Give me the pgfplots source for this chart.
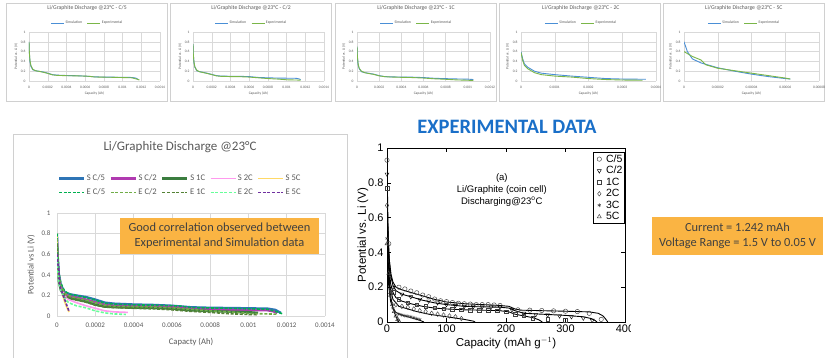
\documentclass[border=0pt]{standalone}
\usepackage{pgfplots}
\pgfplotsset{compat=1.18}
\usepackage{pgfplotstable}
\usepackage{fontspec}
\setmainfont{Carlito}
\newfontfamily\arialf{Liberation Sans}
\newcommand{\fs}[2]{\fontsize{#1}{#2}\selectfont}
\definecolor{simblue}{HTML}{4A8FD6}
\definecolor{expgreen}{HTML}{7AB648}
\definecolor{gridgray}{HTML}{D9D9D9}
\definecolor{txtgray}{HTML}{595959}
\definecolor{boxgray}{HTML}{D0D0D0}
\definecolor{orangebox}{HTML}{FAB443}
\definecolor{titleblue}{HTML}{1A6FC8}
\definecolor{cSC5}{HTML}{2E75B6}
\definecolor{cSC2}{HTML}{B03AB0}
\definecolor{cS1}{HTML}{3B7D3F}
\definecolor{cS2}{HTML}{FF99EE}
\definecolor{cS5}{HTML}{FFD966}
\definecolor{cEC5}{HTML}{00B050}
\definecolor{cEC2}{HTML}{70AD47}
\definecolor{cE1}{HTML}{548235}
\definecolor{cE2}{HTML}{66FF99}
\definecolor{cE5}{HTML}{7030A0}

% ---- Simulation / experimental (Ah, V) ----
\pgfplotstableread[row sep=\\]{
x y\\ 0 0.8\\ 0.000003 0.6\\ 0.00001 0.4\\ 0.00002 0.3\\ 0.00004 0.23\\ 0.00007 0.21\\ 0.0001 0.2\\ 0.00015 0.185\\ 0.0002 0.16\\ 0.00025 0.13\\ 0.0003 0.12\\ 0.0004 0.112\\ 0.0005 0.108\\ 0.0006 0.1\\ 0.0007 0.085\\ 0.0008 0.08\\ 0.0009 0.078\\ 0.001 0.075\\ 0.0011 0.072\\ 0.00114 0.06\\ 0.00117 0.03\\
}\SCfive
\pgfplotstableread[row sep=\\]{
x y\\ 0 0.8\\ 0.000003 0.62\\ 0.00001 0.42\\ 0.00002 0.32\\ 0.00004 0.24\\ 0.00007 0.21\\ 0.0001 0.2\\ 0.00015 0.18\\ 0.0002 0.155\\ 0.00025 0.125\\ 0.0003 0.115\\ 0.0004 0.108\\ 0.0005 0.105\\ 0.0006 0.1\\ 0.00065 0.095\\ 0.0007 0.082\\ 0.0008 0.078\\ 0.0009 0.075\\ 0.001 0.07\\ 0.0011 0.065\\ 0.00115 0.04\\ 0.00118 0.02\\
}\ECfive
\pgfplotstableread[row sep=\\]{
x y\\ 0 0.75\\ 0.000003 0.55\\ 0.00001 0.38\\ 0.00002 0.28\\ 0.00004 0.21\\ 0.00007 0.19\\ 0.0001 0.18\\ 0.00015 0.16\\ 0.0002 0.135\\ 0.00025 0.11\\ 0.0003 0.1\\ 0.0004 0.097\\ 0.0005 0.095\\ 0.0006 0.09\\ 0.0007 0.072\\ 0.0008 0.065\\ 0.0009 0.06\\ 0.001 0.057\\ 0.0011 0.055\\ 0.00113 0.045\\ 0.00115 0.03\\
}\SCtwo
\pgfplotstableread[row sep=\\]{
x y\\ 0 0.75\\ 0.000003 0.56\\ 0.00001 0.39\\ 0.00002 0.29\\ 0.00004 0.22\\ 0.00007 0.19\\ 0.0001 0.175\\ 0.00015 0.155\\ 0.0002 0.13\\ 0.00025 0.105\\ 0.0003 0.095\\ 0.0004 0.09\\ 0.0005 0.088\\ 0.0006 0.08\\ 0.0007 0.065\\ 0.0008 0.05\\ 0.0009 0.04\\ 0.001 0.025\\ 0.0011 0.02\\ 0.00115 0.018\\
}\ECtwo
\pgfplotstableread[row sep=\\]{
x y\\ 0 0.7\\ 0.000003 0.5\\ 0.00001 0.33\\ 0.00002 0.25\\ 0.00004 0.19\\ 0.00007 0.17\\ 0.0001 0.16\\ 0.00015 0.14\\ 0.0002 0.11\\ 0.00025 0.09\\ 0.0003 0.085\\ 0.0004 0.08\\ 0.0005 0.078\\ 0.0006 0.07\\ 0.0007 0.055\\ 0.0008 0.048\\ 0.0009 0.042\\ 0.001 0.038\\ 0.00105 0.03\\
}\SOne
\pgfplotstableread[row sep=\\]{
x y\\ 0 0.7\\ 0.000003 0.52\\ 0.00001 0.35\\ 0.00002 0.26\\ 0.00004 0.2\\ 0.00007 0.17\\ 0.0001 0.155\\ 0.00015 0.135\\ 0.0002 0.105\\ 0.00025 0.088\\ 0.0003 0.082\\ 0.0004 0.075\\ 0.0005 0.07\\ 0.0006 0.06\\ 0.0007 0.045\\ 0.0008 0.035\\ 0.0009 0.022\\ 0.001 0.015\\ 0.00105 0.012\\
}\EOne
\pgfplotstableread[row sep=\\]{
x y\\ 0 0.6\\ 0.000005 0.45\\ 0.00001 0.35\\ 0.00002 0.28\\ 0.00004 0.2\\ 0.00006 0.16\\ 0.0001 0.13\\ 0.00015 0.1\\ 0.0002 0.075\\ 0.00025 0.05\\ 0.0003 0.04\\ 0.00037 0.035\\
}\STwoC
\pgfplotstableread[row sep=\\]{
x y\\ 0 0.58\\ 0.000005 0.42\\ 0.00001 0.32\\ 0.00002 0.25\\ 0.00004 0.17\\ 0.00006 0.13\\ 0.0001 0.1\\ 0.00015 0.08\\ 0.0002 0.05\\ 0.00025 0.03\\ 0.0003 0.02\\ 0.00036 0.015\\
}\ETwoC
\pgfplotstableread[row sep=\\]{
x y\\ 0 0.8\\ 0.000002 0.6\\ 0.000005 0.45\\ 0.00001 0.37\\ 0.00002 0.27\\ 0.00003 0.2\\ 0.00004 0.14\\ 0.00005 0.09\\ 0.00006 0.05\\ 0.000063 0.04\\
}\SFiveC
\pgfplotstableread[row sep=\\]{
x y\\ 0 0.6\\ 0.000005 0.5\\ 0.00001 0.43\\ 0.000013 0.33\\ 0.00002 0.26\\ 0.00003 0.21\\ 0.00004 0.16\\ 0.00005 0.11\\ 0.00006 0.06\\ 0.000063 0.04\\
}\EFiveC

% ---- Literature data (mAh/g, V): model lines and measured marks ----
\pgfplotstableread[row sep=\\]{
x y\\ 0 0.95\\ 1 0.7\\ 2 0.5\\ 4 0.35\\ 7 0.27\\ 10 0.23\\ 15 0.2\\ 25 0.185\\ 40 0.17\\ 60 0.15\\ 80 0.13\\ 100 0.115\\ 130 0.105\\ 160 0.1\\ 190 0.095\\ 205 0.09\\ 215 0.075\\ 225 0.068\\ 260 0.065\\ 300 0.062\\ 340 0.058\\ 355 0.05\\ 363 0.035\\ 368 0.015\\ 371 0\\
}\MLa
\pgfplotstableread[row sep=\\]{
x y\\ 0 0.93\\ 3 0.45\\ 20 0.2\\ 30 0.19\\ 40 0.178\\ 50 0.168\\ 60 0.155\\ 70 0.145\\ 80 0.132\\ 90 0.122\\ 100 0.117\\ 110 0.112\\ 120 0.108\\ 130 0.105\\ 140 0.103\\ 150 0.1\\ 160 0.1\\ 170 0.1\\ 180 0.098\\ 190 0.095\\ 220 0.07\\ 240 0.068\\ 260 0.066\\ 280 0.064\\ 300 0.062\\ 320 0.06\\ 340 0.05\\ 360 0.015\\
}\MMa
\pgfplotstableread[row sep=\\]{
x y\\ 0 0.87\\ 1 0.6\\ 3 0.4\\ 6 0.27\\ 10 0.21\\ 15 0.18\\ 25 0.16\\ 40 0.145\\ 60 0.125\\ 80 0.11\\ 100 0.1\\ 130 0.09\\ 160 0.087\\ 190 0.085\\ 205 0.08\\ 215 0.065\\ 230 0.05\\ 260 0.045\\ 300 0.038\\ 330 0.03\\ 343 0.02\\ 350 0.008\\ 353 0\\
}\MLb
\pgfplotstableread[row sep=\\]{
x y\\ 0 0.85\\ 10 0.2\\ 25 0.16\\ 40 0.145\\ 55 0.13\\ 70 0.12\\ 85 0.11\\ 100 0.1\\ 115 0.095\\ 130 0.09\\ 145 0.088\\ 160 0.087\\ 175 0.086\\ 190 0.085\\ 210 0.07\\ 230 0.05\\ 250 0.042\\ 270 0.04\\ 290 0.035\\ 310 0.03\\ 330 0.022\\ 345 0.01\\
}\MMb
\pgfplotstableread[row sep=\\]{
x y\\ 0 0.78\\ 1 0.55\\ 3 0.35\\ 6 0.22\\ 10 0.17\\ 15 0.14\\ 25 0.12\\ 40 0.105\\ 60 0.09\\ 80 0.08\\ 100 0.075\\ 130 0.07\\ 160 0.068\\ 190 0.065\\ 205 0.058\\ 215 0.045\\ 230 0.035\\ 245 0.025\\ 255 0.013\\ 261 0\\
}\MLc
\pgfplotstableread[row sep=\\]{
x y\\ 0 0.77\\ 10 0.17\\ 20 0.13\\ 35 0.11\\ 50 0.1\\ 65 0.09\\ 80 0.082\\ 95 0.076\\ 110 0.073\\ 125 0.07\\ 140 0.068\\ 155 0.068\\ 170 0.066\\ 185 0.065\\ 200 0.06\\ 215 0.045\\ 230 0.035\\ 245 0.022\\ 270 0.015\\ 300 0.01\\
}\MMc
\pgfplotstableread[row sep=\\]{
x y\\ 0 0.67\\ 2 0.35\\ 5 0.2\\ 10 0.13\\ 20 0.09\\ 35 0.075\\ 50 0.06\\ 70 0.045\\ 90 0.035\\ 110 0.025\\ 130 0.015\\ 145 0.005\\ 148 0\\
}\MLd
\pgfplotstableread[row sep=\\]{
x y\\ 0 0.67\\ 15 0.1\\ 25 0.09\\ 35 0.085\\ 45 0.075\\ 55 0.065\\ 65 0.06\\ 75 0.05\\ 85 0.045\\ 95 0.04\\ 105 0.035\\ 115 0.03\\ 125 0.02\\
}\MMd
\pgfplotstableread[row sep=\\]{
x y\\ 0 0.5\\ 1 0.35\\ 3 0.2\\ 6 0.12\\ 10 0.08\\ 15 0.055\\ 25 0.04\\ 35 0.03\\ 45 0.02\\ 55 0.01\\ 62 0\\
}\MLe
\pgfplotstableread[row sep=\\]{
x y\\ 0 0.48\\ 5 0.15\\ 10 0.08\\ 20 0.045\\ 25 0.04\\ 30 0.036\\ 35 0.033\\ 40 0.03\\ 45 0.025\\ 50 0.02\\ 55 0.015\\
}\MMe
\pgfplotstableread[row sep=\\]{
x y\\ 0 0.45\\ 1 0.35\\ 3 0.25\\ 6 0.15\\ 10 0.08\\ 14 0.04\\ 18 0.01\\ 20 0\\
}\MLf
\pgfplotstableread[row sep=\\]{
x y\\ 0 0.45\\ 3 0.28\\ 6 0.17\\ 9 0.1\\ 12 0.06\\ 15 0.035\\ 18 0.015\\ 20 0.005\\
}\MMf

\pgfplotsset{
  topchart/.style={
    scale only axis, height=49pt, ymin=0, ymax=1,
    ytick={0,0.2,0.4,0.6,0.8,1}, yticklabels={0,0.2,0.4,0.6,0.8,1},
    grid=major, major grid style={line width=0.4pt, draw=gridgray},
    axis line style={draw=none}, tick style={draw=none},
    tick label style={font=\fs{3.6}{4.3}, text=txtgray},
    xticklabel style={yshift=-1.5pt},
    scaled x ticks=false,
    xlabel={Capacity (Ah)}, ylabel={Potential vs. Li (V)},
    label style={font=\fs{3.6}{4.3}, text=txtgray},
    xlabel style={at={(axis description cs:0.5,-0.245)}, anchor=center},
    ylabel style={at={(axis description cs:-0.099,0.5)}, anchor=center},
    title style={font=\fs{5.7}{6.8}, text=txtgray, at={(axis description cs:0.443,1.367)}, anchor=center},
    legend style={at={(0.443,1.18)}, anchor=center, draw=none, fill=none,
      legend columns=2, font=\fs{3.8}{4.5}, text=txtgray, inner sep=0pt,
      nodes={inner sep=1pt},
      /tikz/every even column/.append style={column sep=4pt}},
    legend image code/.code={\draw[##1] (0pt,0pt) -- (13pt,0pt);},
  },
  simline/.style={simblue, line width=0.9pt},
  expline/.style={expgreen, line width=0.9pt},
}

\begin{document}
\begin{tikzpicture}
\fill[white] (0pt,0pt) rectangle (831pt,357pt);
\path[use as bounding box] (0pt,0pt) rectangle (831pt,357pt);

% ---------- top row frames ----------
\foreach \xo in {6,170.5,335,499.5,663.5}{
  \draw[boxgray, line width=0.5pt] (\xo pt,256pt) rectangle ++(161pt,98pt);
}

% ---------- top chart 1: C/5 ----------
\begin{axis}[topchart, at={(29pt,276pt)}, anchor=south west, width=131pt,
  xmin=0, xmax=0.0014,
  xtick={0,0.0002,0.0004,0.0006,0.0008,0.001,0.0012,0.0014},
  xticklabels={0,0.0002,0.0004,0.0006,0.0008,0.001,0.0012,0.0014},
  title={Li/Graphite Discharge @23°C - C/5}]
\addplot[simline] table {\SCfive}; \addlegendentry{Simulation}
\addplot[expline] table {\ECfive}; \addlegendentry{Experimental}
\end{axis}

% ---------- top chart 2: C/2 ----------
\begin{axis}[topchart, at={(193pt,276pt)}, anchor=south west, width=131pt,
  xmin=0, xmax=0.0014,
  xtick={0,0.0002,0.0004,0.0006,0.0008,0.001,0.0012,0.0014},
  xticklabels={0,0.0002,0.0004,0.0006,0.0008,0.001,0.0012,0.0014},
  title={Li/Graphite Discharge @23°C - C/2}]
\addplot[simline] table {\SCtwo}; \addlegendentry{Simulation}
\addplot[expline] table {\ECtwo}; \addlegendentry{Experimental}
\end{axis}

% ---------- top chart 3: 1C ----------
\begin{axis}[topchart, at={(357pt,276pt)}, anchor=south west, width=133pt,
  xmin=0, xmax=0.0012,
  xtick={0,0.0002,0.0004,0.0006,0.0008,0.001,0.0012},
  xticklabels={0,0.0002,0.0004,0.0006,0.0008,0.001,0.0012},
  title={Li/Graphite Discharge @23°C - 1C}]
\addplot[simline] table {\SOne}; \addlegendentry{Simulation}
\addplot[expline] table {\EOne}; \addlegendentry{Experimental}
\end{axis}

% ---------- top chart 4: 2C ----------
\begin{axis}[topchart, at={(521pt,276pt)}, anchor=south west, width=135pt,
  xmin=0, xmax=0.0004,
  xtick={0,0.0001,0.0002,0.0003,0.0004},
  xticklabels={0,0.0001,0.0002,0.0003,0.0004},
  title={Li/Graphite Discharge @23°C - 2C}]
\addplot[simline] table {\STwoC}; \addlegendentry{Simulation}
\addplot[expline] table {\ETwoC}; \addlegendentry{Experimental}
\end{axis}

% ---------- top chart 5: 5C ----------
\begin{axis}[topchart, at={(684pt,276pt)}, anchor=south west, width=135pt,
  xmin=0, xmax=0.00008,
  xtick={0,0.00002,0.00004,0.00006,0.00008},
  xticklabels={0,0.00002,0.00004,0.00006,0.00008},
  title={Li/Graphite Discharge @23°C - 5C}]
\addplot[simline] table {\SFiveC}; \addlegendentry{Simulation}
\addplot[expline] table {\EFiveC}; \addlegendentry{Experimental}
\end{axis}

% ---------- bottom-left combined chart ----------
\draw[boxgray, line width=0.6pt] (13pt,-3pt) rectangle (347pt,223pt);
\begin{axis}[at={(57pt,41pt)}, anchor=south west, scale only axis,
  width=268pt, height=103pt,
  xmin=0, xmax=0.0014, ymin=0, ymax=1,
  xtick={0,0.0002,0.0004,0.0006,0.0008,0.001,0.0012,0.0014},
  xticklabels={0,0.0002,0.0004,0.0006,0.0008,0.001,0.0012,0.0014},
  ytick={0,0.2,0.4,0.6,0.8,1}, yticklabels={0,0.2,0.4,0.6,0.8,1},
  scaled x ticks=false,
  grid=major, major grid style={line width=0.6pt, draw=gridgray},
  axis line style={draw=none}, tick style={draw=none},
  tick label style={font=\fs{7}{8.4}, text=txtgray},
  xticklabel style={yshift=-3.5pt}, yticklabel style={xshift=-3pt},
  xlabel={Capacty (Ah)}, ylabel={Potential vs Li (V)},
  label style={font=\fs{8.6}{10}, text=txtgray},
  xlabel style={at={(axis description cs:0.5,-0.252)}, anchor=center},
  ylabel style={at={(axis description cs:-0.097,0.5)}, anchor=center},
  title={Li/Graphite Discharge @23°C},
  title style={font=\fs{13}{15}, text=txtgray, at={(axis description cs:0.459,1.583)}, anchor=center},
  legend style={at={(0.459,1.267)}, anchor=center, draw=none, fill=none,
    legend columns=5, font=\fs{8.6}{10}, text=txtgray, inner sep=0pt,
    nodes={inner sep=1.5pt},
    /tikz/every even column/.append style={column sep=3pt},
    /tikz/row sep=3.5pt},
  legend image code/.code={\draw[#1] (0pt,0pt) -- (25pt,0pt);},
  ]
\addplot[cSC5, line width=2.3pt] table {\SCfive}; \addlegendentry{S C/5}
\addplot[cSC2, line width=2.3pt] table {\SCtwo}; \addlegendentry{S C/2}
\addplot[cS1, line width=2.3pt] table {\SOne}; \addlegendentry{S 1C}
\addplot[cS2, line width=1.6pt] table {\STwoC}; \addlegendentry{S 2C}
\addplot[cS5, line width=1.6pt] table {\SFiveC}; \addlegendentry{S 5C}
\addplot[cEC5, line width=1.6pt, dash pattern=on 3pt off 1.6pt] table {\ECfive}; \addlegendentry{E C/5}
\addplot[cEC2, line width=1.6pt, dash pattern=on 3pt off 1.6pt] table {\ECtwo}; \addlegendentry{E C/2}
\addplot[cE1, line width=1.6pt, dash pattern=on 3pt off 1.6pt] table {\EOne}; \addlegendentry{E 1C}
\addplot[cE2, line width=1.6pt, dash pattern=on 3pt off 1.6pt] table {\ETwoC}; \addlegendentry{E 2C}
\addplot[cE5, line width=1.6pt, dash pattern=on 3pt off 1.6pt] table {\EFiveC}; \addlegendentry{E 5C}
\end{axis}
\node[fill=orangebox, minimum width=199pt, minimum height=36pt, align=center,
  text=black!75, font=\fs{12.4}{15}, inner sep=0pt] at (219.5pt,121pt)
  {Good correlation observed between\\Experimental and Simulation data};

% ---------- middle: literature data ----------
\node[text=titleblue, font=\bfseries\fs{20.5}{24}] at (507pt,230pt) {EXPERIMENTAL DATA};
\begin{scope}
\clip (350pt,0pt) rectangle (630pt,357pt);
\begin{axis}[at={(387pt,35pt)}, anchor=south west, scale only axis,
  width=238pt, height=174pt,
  xmin=0, xmax=400, ymin=0, ymax=1,
  xtick={0,100,200,300,400}, xticklabels={0,100,200,300,400},
  ytick={0,0.2,0.4,0.6,0.8,1}, yticklabels={0,0.2,0.4,0.6,0.8,1},
  tick align=inside, major tick length=4pt,
  axis line style={black, line width=0.6pt}, tick style={black, line width=0.5pt},
  tick label style={font=\arialf\fs{11}{13}},
  xticklabel style={yshift=1pt},
  xlabel={Capacity (mAh g$^{-1}$)}, ylabel={Potential vs. Li (V)},
  label style={font=\arialf\fs{11.5}{13.5}},
  xlabel style={at={(axis description cs:0.5,-0.121)}, anchor=center},
  ylabel style={at={(axis description cs:-0.101,0.5)}, anchor=center},
  legend style={at={(1,0.977)}, anchor=north east, draw=black, line width=0.5pt,
    font=\arialf\fs{10.5}{12}, legend cell align=left, inner sep=1pt,
    nodes={inner sep=1.3pt}, /tikz/row sep=0pt},
  legend image code/.code={\path[draw=none, fill=none] (0pt,-2pt) (11pt,2pt);
    \draw[mark repeat=1, mark phase=1, #1] plot coordinates {(5.5pt,0pt)};},
  mark options={solid, draw=black!75, fill=none, line width=0.45pt},
  ]
\addplot[black, line width=0.9pt, forget plot] table {\MLa};
\addplot[black, line width=0.9pt, forget plot] table {\MLb};
\addplot[black, line width=0.9pt, forget plot] table {\MLc};
\addplot[black, line width=0.9pt, forget plot] table {\MLd};
\addplot[black, line width=0.9pt, forget plot] table {\MLe};
\addplot[black, line width=0.9pt, forget plot] table {\MLf};
\addplot[only marks, mark=o, mark size=2.2pt] table {\MMa}; \addlegendentry{C/5}
\addplot[only marks, mark=triangle, mark size=2.3pt, mark options={rotate=180}] table {\MMb}; \addlegendentry{C/2}
\addplot[only marks, mark=square, mark size=1.8pt] table {\MMc}; \addlegendentry{1C}
\addplot[only marks, mark=diamond, mark size=2.3pt] table {\MMd}; \addlegendentry{2C}
\addplot[only marks, mark=asterisk, mark size=1.8pt] table {\MMe}; \addlegendentry{3C}
\addplot[only marks, mark=triangle, mark size=2.3pt] table {\MMf}; \addlegendentry{5C}
\node[font=\arialf\fs{9.5}{11}] at (axis cs:193,0.83) {(a)};
\node[font=\arialf\fs{9.5}{11}] at (axis cs:193,0.76) {Li/Graphite (coin cell)};
\node[font=\arialf\fs{9.5}{11}] at (axis cs:193,0.69) {Discharging@23\textsuperscript{o}C};
\end{axis}
\end{scope}

% ---------- right info box ----------
\node[fill=orangebox, minimum width=171pt, minimum height=38pt, align=center,
  text=black!75, font=\fs{12.4}{15}, inner sep=0pt] at (737.5pt,121pt)
  {Current = 1.242 mAh\\Voltage Range = 1.5 V to 0.05 V};
\end{tikzpicture}
\end{document}
